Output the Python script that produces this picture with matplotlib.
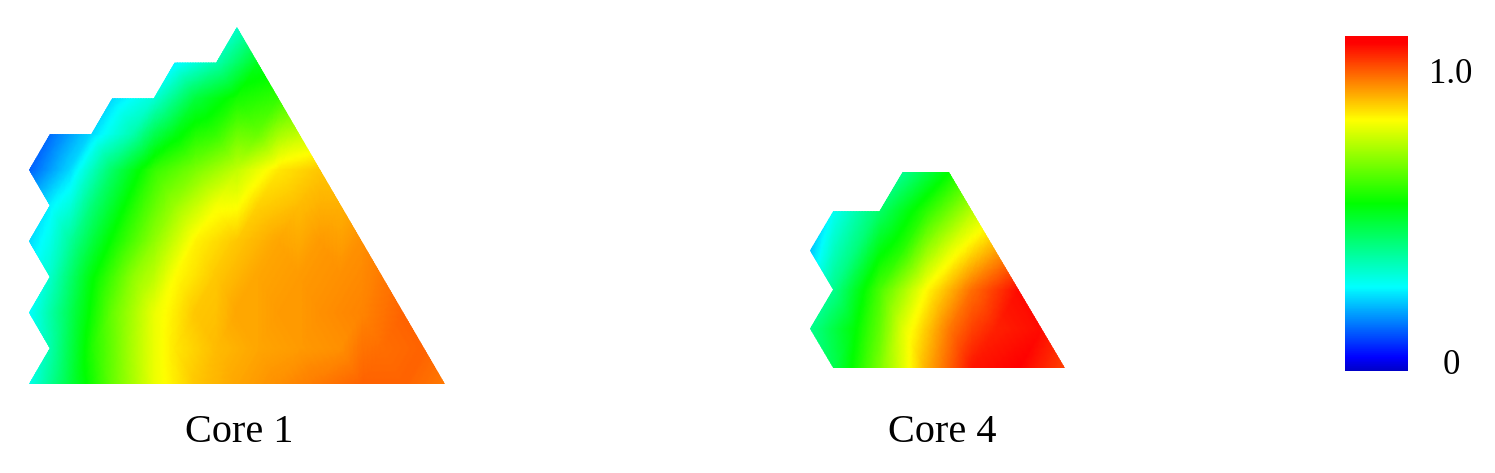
import numpy as np
import matplotlib
matplotlib.use('Agg')
from matplotlib import pyplot as plt
from matplotlib.colors import LinearSegmentedColormap, Normalize
from matplotlib.cm import ScalarMappable
from matplotlib.patches import Polygon
from matplotlib.tri import Triangulation, UniformTriRefiner, LinearTriInterpolator

W, H = 1495, 473

# values are positions on the colour bar, one list per lattice row, bottom row first
core1_starts = [0, 1, 0, 1, 0, 1, 0, 1, 4, 7, 10]
core1_values = [
    [.27, .44, .60, .73, .80, .83, .85, .87, .89, .89, .87],
    [.33, .53, .67, .77, .81, .83, .84, .85, .88, .89],
    [.25, .42, .60, .73, .80, .83, .84, .85, .86, .89],
    [.30, .49, .64, .75, .80, .83, .84, .85, .87],
    [.22, .35, .51, .64, .76, .80, .83, .84, .85],
    [.24, .38, .53, .65, .74, .79, .81, .82],
    [.12, .22, .40, .55, .62, .69, .77, .80],
    [.13, .22, .33, .48, .55, .60, .69],
    [.22, .29, .44, .52, .55],
    [.24, .33, .47],
    [.30],
]
core1_outline = [(0, 0), (1, 1), (0, 2), (1, 3), (0, 4), (1, 5), (0, 6), (1, 7), (3, 7),
                 (4, 8), (6, 8), (7, 9), (9, 9), (10, 10), (20, 0)]

core4_starts = [0, -1, 0, -1, 0, 3]
core4_values = [
    [.42, .62, .82, .96, .98, .92],
    [.36, .50, .72, .87, .95, .97],
    [.36, .57, .75, .88, .97],
    [.20, .38, .54, .72, .83],
    [.26, .40, .54, .68],
    [.36, .50],
]
core4_outline = [(0, 0), (-1, 1), (0, 2), (-1, 3), (0, 4), (2, 4), (3, 5), (5, 5), (10, 0)]

bar_colors = ['#0000c8', '#0000ff', '#00ffff', '#00ff00', '#ffff00', '#ff0000', '#ff0000']
bar_stops = [0, .04, .25, .5, .75, .98, 1]
bar_ticks = [.027, .896]
bar_ticklabels = ['0', '1.0']

cmap = LinearSegmentedColormap.from_list('core', list(zip(bar_stops, bar_colors)), N=512)
norm = Normalize(0, 1)

plt.rcParams['font.family'] = ['Liberation Serif', 'DejaVu Serif']


def px_axes(fig, left, top, right, bottom):
    return fig.add_axes([left / W, 1 - bottom / H, (right - left) / W, (bottom - top) / H])


def draw_core(ax, starts, values, outline, xlim, ylim):
    xs = []
    ys = []
    zs = []
    for row, (s, vals) in enumerate(zip(starts, values)):
        for j, v in enumerate(vals):
            xs.append(s + 2 * j)
            ys.append(row)
            zs.append(v)
    tri = Triangulation(xs, ys)
    # gouraud mixes rgb, not values, so refine first or green->red goes muddy
    interp = LinearTriInterpolator(tri, np.array(zs, dtype=float))
    fine_tri, fine_z = UniformTriRefiner(tri).refine_field(zs, triinterpolator=interp, subdiv=4)
    mesh = ax.tripcolor(fine_tri, fine_z, shading='gouraud', cmap=cmap, norm=norm)
    clip = Polygon(outline, closed=True, transform=ax.transData, facecolor='none', edgecolor='none')
    ax.add_patch(clip)
    mesh.set_clip_path(clip)
    ax.set_xlim(*xlim)
    ax.set_ylim(*ylim)
    ax.axis('off')


fig = plt.figure(figsize=(W / 100, H / 100), dpi=100)

ax1 = px_axes(fig, 29, 27, 445, 384)
draw_core(ax1, core1_starts, core1_values, core1_outline, (0, 20), (0, 10))

ax4 = px_axes(fig, 810, 172, 1065, 368)
draw_core(ax4, core4_starts, core4_values, core4_outline, (-1, 10), (0, 5))

fig.text(239 / W, 1 - 432 / H, 'Core 1', fontsize=29, ha='center', va='center', color='black')
fig.text(942 / W, 1 - 432 / H, 'Core 4', fontsize=29, ha='center', va='center', color='black')

cax = px_axes(fig, 1345, 36, 1408, 371)
cbar = fig.colorbar(ScalarMappable(norm=norm, cmap=cmap), cax=cax)
cbar.outline.set_visible(False)
cbar.set_ticks(bar_ticks)
cbar.set_ticklabels(bar_ticklabels, fontsize=25, ha='center')
cax.tick_params(axis='y', length=0, pad=31)

fig.savefig('out.png', dpi=100)
